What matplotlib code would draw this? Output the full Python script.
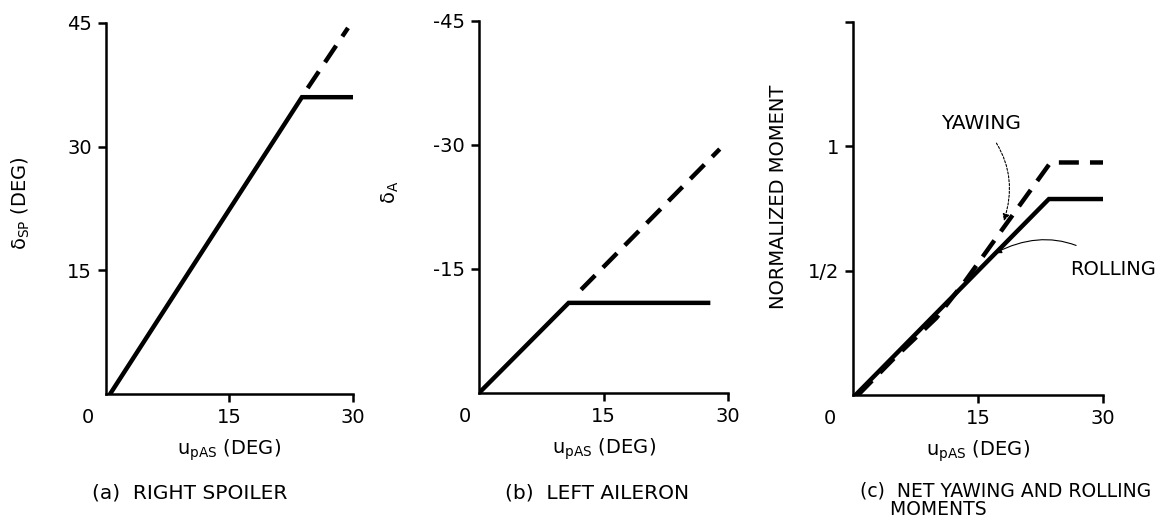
import matplotlib.pyplot as plt  # for plotting data

# panel (a) right spoiler
spoiler_x = [0.5, 23.8, 29.9]
spoiler_y = [0, 36, 36]
spoiler_dash_x = [24.5, 29.4]
spoiler_dash_y = [37.1, 44.4]

# panel (b) left aileron
aileron_x = [0, 10.8, 27.6]
aileron_y = [0, -10.9, -10.9]
aileron_dash_x = [12.3, 29.0]
aileron_dash_y = [-12.5, -29.5]

# panel (c) net moments
roll_x = [0.3, 23.5, 30]
roll_y = [0, 0.788, 0.788]
yaw_x = [0.6, 5, 10, 13.5, 18, 23.7, 30.3]
yaw_y = [0, 0.15, 0.31, 0.46, 0.67, 0.935, 0.935]

x_ticks = [15, 30]
x_ticklabels = ['15', '30']
xlabel = r'$\mathregular{u_{pAS}}$ (DEG)'

plt.rcParams['font.family'] = ['DejaVu Sans']
FS = 14
CAP = 14.5
LW = 3.2
DASH = (4.5, 2.5)

fig = plt.figure(figsize=(11.66, 5.27), dpi=100)


def style(ax, corner_dx):
    for s in ['top', 'right']:
        ax.spines[s].set_visible(False)
    for s in ['left', 'bottom']:
        ax.spines[s].set_linewidth(1.8)
    ax.tick_params(direction='out', length=6, width=1.8, labelsize=FS, pad=4)
    ax.set_xlim(0, 30)
    ax.set_xticks(x_ticks)
    ax.set_xticklabels(x_ticklabels)
    ax.set_xlabel(xlabel, fontsize=FS, labelpad=8)
    ax.annotate('0', xy=(0, 0), xycoords='axes fraction', xytext=(corner_dx, -24),
                textcoords='offset pixels', ha='center', va='center', fontsize=FS)


# (a)
ax1 = fig.add_axes([0.0909, 0.2524, 0.2118, 0.704])
ax1.plot(spoiler_x, spoiler_y, color='black', lw=LW, solid_joinstyle='miter')
ax1.plot(spoiler_dash_x, spoiler_dash_y, color='black', lw=LW, dashes=DASH)
ax1.set_ylim(0, 45)
ax1.set_yticks([15, 30, 45])
ax1.set_yticklabels(['15', '30', '45'])
ax1.set_ylabel(r'$\mathregular{\delta_{SP}}$ (DEG)', fontsize=FS)
ax1.yaxis.set_label_coords(-0.30, 0.515)
style(ax1, -18)

# (b)
ax2 = fig.add_axes([0.4108, 0.2543, 0.2136, 0.706])
ax2.plot(aileron_x, aileron_y, color='black', lw=LW, solid_joinstyle='miter')
ax2.plot(aileron_dash_x, aileron_dash_y, color='black', lw=LW, dashes=DASH)
ax2.set_ylim(0, -45)
ax2.set_yticks([-15, -30, -45])
ax2.set_yticklabels(['-15', '-30', '-45'])
ax2.set_ylabel(r'$\mathregular{\delta_{A}}$', fontsize=FS)
ax2.yaxis.set_label_coords(-0.315, 0.54)
style(ax2, -14)

# (c)
ax3 = fig.add_axes([0.7316, 0.2505, 0.2144, 0.7078])
ax3.plot(roll_x, roll_y, color='black', lw=LW, solid_joinstyle='miter')
ax3.plot(yaw_x, yaw_y, color='black', lw=LW, dashes=DASH)
ax3.set_ylim(0, 1.5)
ax3.set_yticks([0.5, 1, 1.5])
ax3.set_yticklabels(['1/2', '1', ''])
ax3.set_ylabel('NORMALIZED MOMENT', fontsize=FS)
ax3.yaxis.set_label_coords(-0.26, 0.53)
style(ax3, -23)

ax3.annotate('YAWING', xy=(18.1, 0.7), xytext=(15.4, 1.09), ha='center', va='center',
             fontsize=CAP,
             arrowprops=dict(arrowstyle='-|>', lw=0.8, ls=(0, (2, 1.5)), color='black',
                             connectionstyle='arc3,rad=-0.3', shrinkA=6, shrinkB=0,
                             mutation_scale=10))
ax3.annotate('ROLLING', xy=(17.0, 0.57), xytext=(26.1, 0.505), ha='left', va='center',
             fontsize=CAP - 0.5,
             arrowprops=dict(arrowstyle='-|>', lw=0.8, color='black',
                             connectionstyle='arc3,rad=0.35', shrinkA=18, shrinkB=0,
                             mutation_scale=10))

# captions
fig.text(92 / 1166, 1 - 493 / 527, '(a)  RIGHT SPOILER', fontsize=CAP, va='center', ha='left')
fig.text(505 / 1166, 1 - 493 / 527, '(b)  LEFT AILERON', fontsize=CAP, va='center', ha='left')
fig.text(860 / 1166, 1 - 500 / 527, '(c)  NET YAWING AND ROLLING\n     MOMENTS', fontsize=13.5,
         va='center', ha='left', linespacing=0.95)

fig.savefig('out.png', dpi=100)
